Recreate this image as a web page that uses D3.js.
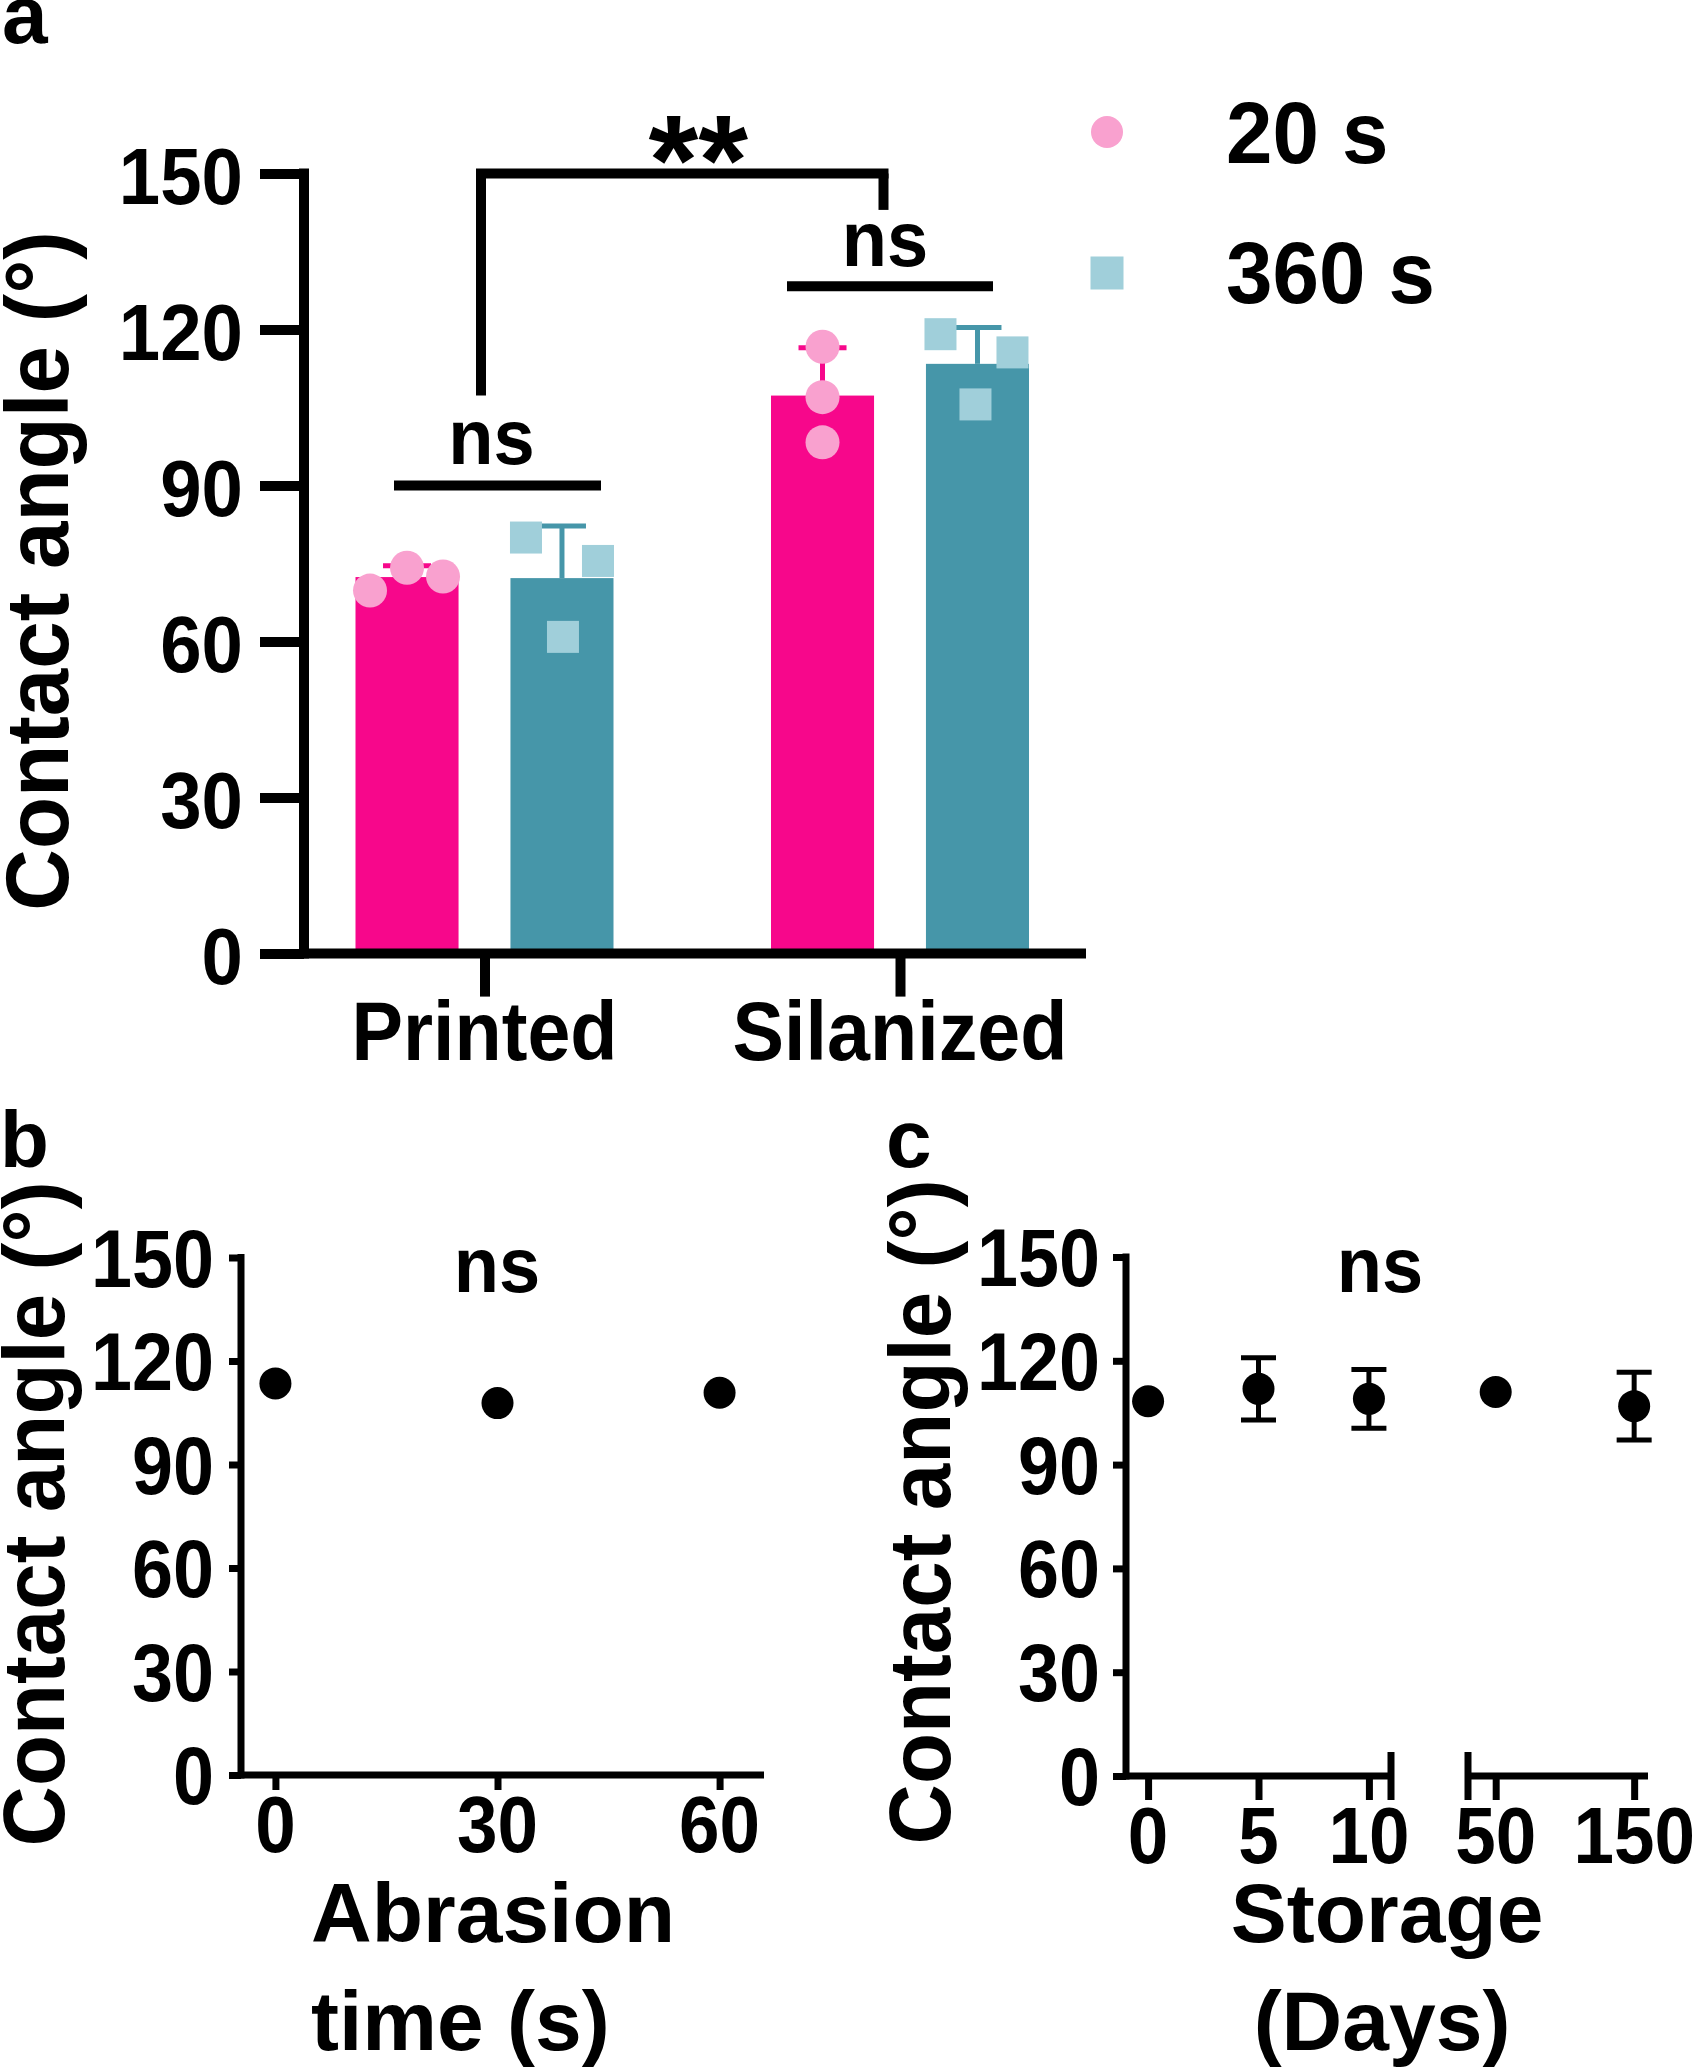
<!DOCTYPE html>
<html>
<head>
<meta charset="utf-8">
<script src="https://cdn.jsdelivr.net/npm/d3@7"></script>
<style>
  html, body { margin: 0; padding: 0; background: #fff; }
  svg { display: block; }
</style>
</head>
<body>
<script>
// ---------------- DATA ----------------
// Panel a
const categories = ["Printed", "Silanized"];
const series = ["20 s", "360 s"];
const mean20 = [72.4, 107.3];
const mean360 = [72.2, 113.4];
const sd20 = [2.2, 9.2];
const sd360 = [10.0, 7.0];
const points20 = [[69.8, 74.2, 72.5], [116.7, 107.0, 98.3]];
const points360 = [[80.0, 60.9, 75.5], [119.1, 105.6, 115.6]];
const yTicks = [0, 30, 60, 90, 120, 150];

// Panel b
const abrasionTime = [0, 30, 60];
const abrasionAngle = [113.5, 107.8, 110.8];

// Panel c
const storageDays = [0, 5, 10, 50, 150];
const storageLabels = ["0", "5", "10", "50", "150"];
const storageAngle = [108.3, 111.9, 109.0, 111.0, 106.9];
const storageSD = [0, 9.0, 8.5, 0, 9.8];

// ---------------- STYLE ----------------
const barColor = {"20 s": "#F7078B", "360 s": "#4696A9"};
const ptColor = {"20 s": "#F9A1CF", "360 s": "#A0CFDA"};
const FONT = '"Liberation Sans", Arial, Helvetica, sans-serif';

const W = 1693, H = 2070;
const svg = d3.select("body").append("svg")
  .attr("width", W).attr("height", H)
  .style("font-family", FONT);

function label(parent, o) {
  return parent.append("text")
    .attr("transform", `translate(${o.x},${o.y}) rotate(${o.rot || 0}) scale(${o.sx || 1},1)`)
    .attr("text-anchor", o.anchor || "start")
    .attr("font-size", o.size)
    .attr("font-weight", "bold")
    .attr("fill", "#000")
    .text(o.text);
}
function hline(parent, x1, x2, y, w) {
  parent.append("line").attr("x1", x1).attr("x2", x2).attr("y1", y).attr("y2", y)
    .attr("stroke", "#000").attr("stroke-width", w);
}
function vline(parent, x, y1, y2, w, color) {
  parent.append("line").attr("x1", x).attr("x2", x).attr("y1", y1).attr("y2", y2)
    .attr("stroke", color || "#000").attr("stroke-width", w);
}

// ================= PANEL A =================
const gA = svg.append("g");
const yA = d3.scaleLinear().domain([0, 150]).range([953.6, 173.5]);
const xA = d3.scalePoint().domain(categories).range([484.5, 900]);
const xIn = d3.scaleBand().domain(series).range([-129, 129]).paddingInner(0.335);

const means = {"20 s": mean20, "360 s": mean360};
const sds = {"20 s": sd20, "360 s": sd360};
const pts = {"20 s": points20, "360 s": points360};
// horizontal spread of replicate points (layout only)
const spread = {"20 s": [[-37, 0, 36], [0, 0, 0]], "360 s": [[-36, 1, 36], [-37, -2, 35]]};

const barData = [];
categories.forEach((c, i) => series.forEach(s => barData.push({c, i, s, m: means[s][i], sd: sds[s][i]})));

gA.selectAll("rect.bar").data(barData).enter().append("rect")
  .attr("class", "bar")
  .attr("x", d => xA(d.c) + xIn(d.s))
  .attr("width", xIn.bandwidth())
  .attr("y", d => yA(d.m))
  .attr("height", d => yA(0) - yA(d.m))
  .attr("fill", d => barColor[d.s]);

// error bars (upper only)
barData.forEach(d => {
  const cx = xA(d.c) + xIn(d.s) + xIn.bandwidth() / 2;
  vline(gA, cx, yA(d.m), yA(d.m + d.sd), 5, barColor[d.s]);
  gA.append("line").attr("x1", cx - 24).attr("x2", cx + 24)
    .attr("y1", yA(d.m + d.sd)).attr("y2", yA(d.m + d.sd))
    .attr("stroke", barColor[d.s]).attr("stroke-width", 5);
});

// replicate points
barData.forEach(d => {
  const cx = xA(d.c) + xIn(d.s) + xIn.bandwidth() / 2;
  const vals = pts[d.s][d.i];
  const off = spread[d.s][d.i];
  vals.forEach((v, k) => {
    if (d.s === "20 s") {
      gA.append("circle").attr("cx", cx + off[k]).attr("cy", yA(v)).attr("r", 17).attr("fill", ptColor[d.s]);
    } else {
      gA.append("rect").attr("x", cx + off[k] - 16).attr("y", yA(v) - 16)
        .attr("width", 32).attr("height", 32).attr("fill", ptColor[d.s]);
    }
  });
});

// axes
const axA = gA.append("g").attr("transform", "translate(304,0)")
  .call(d3.axisLeft(yA).tickValues(yTicks).tickSize(44).tickSizeOuter(0).tickFormat(""));
axA.select(".domain").remove();
axA.selectAll("line").attr("stroke", "#000").attr("stroke-width", 10);
vline(gA, 304, yA(150) - 5, yA(0) + 5, 10);
hline(gA, 304, 1086, yA(0), 10);
const axAx = gA.append("g").attr("transform", `translate(0,${yA(0)})`)
  .call(d3.axisBottom(xA).tickSize(43).tickSizeOuter(0).tickFormat(""));
axAx.select(".domain").remove();
axAx.selectAll("line").attr("stroke", "#000").attr("stroke-width", 10);

yTicks.forEach(t => label(gA, {x: 243, y: yA(t) + 30, text: String(t), size: 80, sx: 0.93, anchor: "end"}));
categories.forEach(c => label(gA, {x: xA(c), y: 1060, text: c, size: 84, sx: 0.92, anchor: "middle"}));
label(gA, {x: 68, y: 571, text: "Contact angle (°)", size: 89, sx: 0.96, anchor: "middle", rot: -90});
label(gA, {x: 2, y: 43, text: "a", size: 82});

// significance annotations
const lx = xA("Printed") - 3.5, rx = xA("Silanized") - 16.5;
hline(gA, lx - 5, rx + 5, yA(150), 10);
vline(gA, lx, yA(150), yA(107.3), 10);
vline(gA, rx, yA(150), yA(143), 10);
label(gA, {x: (lx + rx) / 2 + 16, y: 204, text: "**", size: 128, anchor: "middle"});
hline(gA, xA("Printed") - 90.5, xA("Printed") + 116.5, yA(90), 10);
label(gA, {x: xA("Printed") + 7, y: 464, text: "ns", size: 78, sx: 0.95, anchor: "middle"});
hline(gA, xA("Silanized") - 113, xA("Silanized") + 93, yA(128.3), 10);
label(gA, {x: xA("Silanized") - 15, y: 266, text: "ns", size: 78, sx: 0.95, anchor: "middle"});

// legend
gA.append("circle").attr("cx", 1107).attr("cy", 132).attr("r", 16).attr("fill", ptColor["20 s"]);
gA.append("rect").attr("x", 1107 - 16.5).attr("y", 273 - 16.5).attr("width", 33).attr("height", 33).attr("fill", ptColor["360 s"]);
label(gA, {x: 1226, y: 163, text: series[0], size: 87, sx: 0.96});
label(gA, {x: 1226, y: 303, text: series[1], size: 87, sx: 0.96});

// ================= PANEL B =================
const gB = svg.append("g");
const yB = d3.scaleLinear().domain([0, 150]).range([1775, 1257.5]);
const xB = d3.scaleLinear().domain([-4.65, 66]).range([241, 764]);

const axB = gB.append("g").attr("transform", "translate(241,0)")
  .call(d3.axisLeft(yB).tickValues(yTicks).tickSize(12).tickSizeOuter(0).tickFormat(""));
axB.select(".domain").remove();
axB.selectAll("line").attr("stroke", "#000").attr("stroke-width", 7);
const axBx = gB.append("g").attr("transform", `translate(0,${yB(0)})`)
  .call(d3.axisBottom(xB).tickValues(abrasionTime).tickSize(15).tickSizeOuter(0).tickFormat(""));
axBx.select(".domain").remove();
axBx.selectAll("line").attr("stroke", "#000").attr("stroke-width", 7);
vline(gB, 241, yB(150) - 3.5, yB(0) + 3.5, 7);
hline(gB, 241, 764, yB(0), 7);

gB.selectAll("circle.pt").data(abrasionTime).enter().append("circle")
  .attr("class", "pt")
  .attr("cx", d => xB(d)).attr("cy", (d, i) => yB(abrasionAngle[i])).attr("r", 16).attr("fill", "#000");

yTicks.forEach(t => label(gB, {x: 214, y: yB(t) + 29, text: String(t), size: 81, sx: 0.91, anchor: "end"}));
abrasionTime.forEach(t => label(gB, {x: xB(t), y: 1852, text: String(t), size: 80, sx: 0.91, anchor: "middle"}));
label(gB, {x: 497, y: 1292, text: "ns", size: 78, sx: 0.95, anchor: "middle"});
label(gB, {x: 311, y: 1942, text: "Abrasion", size: 84});
label(gB, {x: 311, y: 2050, text: "time (s)", size: 84});
label(gB, {x: 64, y: 1514, text: "Contact angle (°)", size: 88, sx: 0.95, anchor: "middle", rot: -90});
label(gB, {x: 0, y: 1167, text: "b", size: 80});

// ================= PANEL C =================
const gC = svg.append("g");
const yC = d3.scaleLinear().domain([0, 150]).range([1776, 1257]);
const xC1 = d3.scaleLinear().domain([-1, 11]).range([1126, 1391]);
const xC2 = d3.scaleLinear().domain([30, 160]).range([1468, 1648]);
const xC = d => d <= 11 ? xC1(d) : xC2(d);

const axC = gC.append("g").attr("transform", "translate(1126,0)")
  .call(d3.axisLeft(yC).tickValues(yTicks).tickSize(13).tickSizeOuter(0).tickFormat(""));
axC.select(".domain").remove();
axC.selectAll("line").attr("stroke", "#000").attr("stroke-width", 7);
const axC1 = gC.append("g").attr("transform", `translate(0,${yC(0)})`)
  .call(d3.axisBottom(xC1).tickValues(storageDays.filter(d => d <= 11)).tickSize(24).tickSizeOuter(0).tickFormat(""));
axC1.select(".domain").remove();
const axC2 = gC.append("g").attr("transform", `translate(0,${yC(0)})`)
  .call(d3.axisBottom(xC2).tickValues(storageDays.filter(d => d > 11)).tickSize(24).tickSizeOuter(0).tickFormat(""));
axC2.select(".domain").remove();
gC.selectAll(".tick line").attr("stroke", "#000").attr("stroke-width", 7);
vline(gC, 1126, yC(150) - 3.5, yC(0) + 3.5, 7);
hline(gC, 1126, xC1.range()[1], yC(0), 7);
hline(gC, xC2.range()[0], xC2.range()[1], yC(0), 7);
// axis break marks
vline(gC, xC1.range()[1], yC(0) - 24, yC(0) + 24, 7);
vline(gC, xC2.range()[0], yC(0) - 24, yC(0) + 24, 7);

storageDays.forEach((d, i) => {
  const cx = xC(d), sd = storageSD[i], m = storageAngle[i];
  if (sd > 0) {
    vline(gC, cx, yC(m - sd), yC(m + sd), 5);
    hline(gC, cx - 17.5, cx + 17.5, yC(m + sd), 5);
    hline(gC, cx - 17.5, cx + 17.5, yC(m - sd), 5);
  }
});
gC.selectAll("circle.pt").data(storageDays).enter().append("circle")
  .attr("class", "pt")
  .attr("cx", d => xC(d)).attr("cy", (d, i) => yC(storageAngle[i])).attr("r", 16).attr("fill", "#000");

yTicks.forEach(t => label(gC, {x: 1100, y: yC(t) + 29, text: String(t), size: 81, sx: 0.91, anchor: "end"}));
storageDays.forEach((d, i) => label(gC, {x: xC(d), y: 1863, text: storageLabels[i], size: 80, sx: 0.91, anchor: "middle"}));
label(gC, {x: 1380, y: 1292, text: "ns", size: 78, sx: 0.95, anchor: "middle"});
label(gC, {x: 1387, y: 1942, text: "Storage", size: 84, anchor: "middle"});
label(gC, {x: 1382, y: 2050, text: "(Days)", size: 84, anchor: "middle"});
label(gC, {x: 950, y: 1512, text: "Contact angle (°)", size: 88, sx: 0.95, anchor: "middle", rot: -90});
label(gC, {x: 886, y: 1167, text: "c", size: 82});
</script>
</body>
</html>
